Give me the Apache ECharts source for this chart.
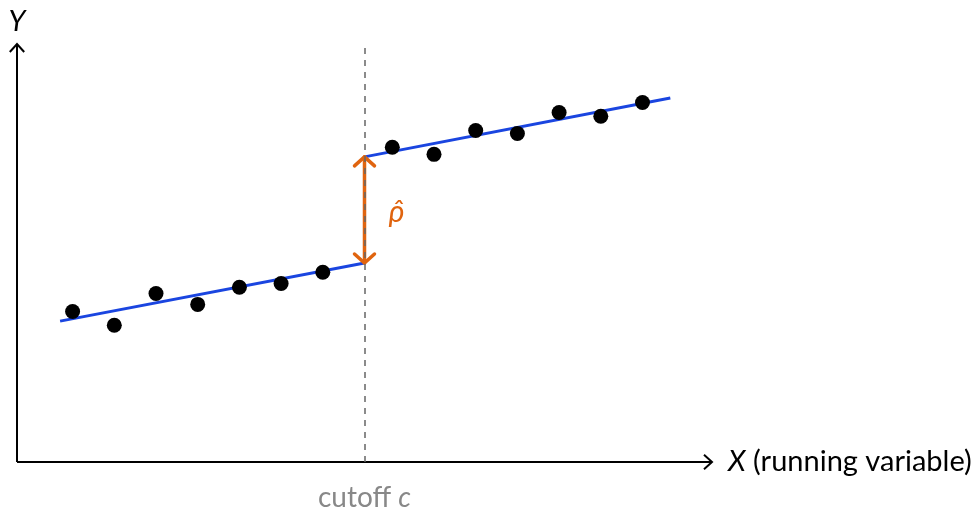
<!DOCTYPE html>
<html><head><meta charset="utf-8">
<script src="https://cdn.jsdelivr.net/npm/echarts@6/dist/echarts.min.js"></script>
<style>html,body{margin:0;padding:0;background:#fff}#c{width:980px;height:509px}</style>
</head><body><div id="c"></div>
<script>
// Data
const cutoff = 5;
const leftX = [0.8, 1.4, 2.0, 2.6, 3.2, 3.8, 4.4];
const leftY = [3.60, 3.27, 4.03, 3.77, 4.18, 4.27, 4.54];
const rightX = [5.4, 6.0, 6.6, 7.2, 7.8, 8.4, 9.0];
const rightY = [7.53, 7.36, 7.93, 7.86, 8.36, 8.27, 8.60];
const leftFit = [[0.62, 3.37], [5, 4.76]];
const rightFit = [[5, 7.30], [9.4, 8.71]];
const jump = [[5, 4.76], [5, 7.30]];
const axisRange = {xMin: 0, xMax: 10, yMin: 0, yMax: 10};

const FONT = 'Lato';
const ORANGE = '#e0640f';
const BLUE = '#1a45e0';

const chart = echarts.init(document.getElementById('c'));
chart.setOption({
  animation: false,
  grid: {left: 17, right: 268, top: 44, bottom: 47, containLabel: false, outerBoundsMode: 'none'},
  xAxis: {
    type: 'value', min: axisRange.xMin, max: axisRange.xMax, interval: 5,
    axisLine: {show: false}, axisTick: {show: false}, splitLine: {show: false},
    axisLabel: {
      margin: 22,
      formatter: v => v === cutoff ? '{n|cutoff }{i|c}' : '',
      color: '#888', fontFamily: FONT, fontSize: 28,
      rich: {
        n: {color: '#888', fontFamily: FONT, fontSize: 28},
        i: {fontStyle: 'italic', color: '#888', fontFamily: FONT, fontSize: 28}
      }
    }
  },
  yAxis: {
    type: 'value', min: axisRange.yMin, max: axisRange.yMax,
    axisLine: {show: false}, axisTick: {show: false}, splitLine: {show: false},
    axisLabel: {show: false}
  },
  series: [
    {
      type: 'custom', silent: true, clip: false,
      data: [[axisRange.xMin, axisRange.yMin]],
      renderItem: function (params, api) {
        const o = api.coord([axisRange.xMin, axisRange.yMin]);
        const xe = api.coord([axisRange.xMax, axisRange.yMin]);
        const ye = api.coord([axisRange.xMin, axisRange.yMax]);
        const st = {stroke: '#000', lineWidth: 2, fill: null};
        const a = 8;
        return {type: 'group', children: [
          {type: 'line', shape: {x1: o[0], y1: o[1], x2: xe[0], y2: xe[1]}, style: st},
          {type: 'polyline', shape: {points: [[xe[0]-a, xe[1]-a*0.9], [xe[0], xe[1]], [xe[0]-a, xe[1]+a*0.9]]}, style: st},
          {type: 'line', shape: {x1: o[0], y1: o[1], x2: ye[0], y2: ye[1]}, style: st},
          {type: 'polyline', shape: {points: [[ye[0]-a*0.9, ye[1]+a], [ye[0], ye[1]], [ye[0]+a*0.9, ye[1]+a]]}, style: st},
          {type: 'text', style: {x: ye[0], y: ye[1]-22, text: '{i|Y}', align: 'center', verticalAlign: 'middle',
            rich: {i: {fontStyle: 'italic', fontFamily: FONT, fontSize: 29, fill: '#000'}}}},
          {type: 'text', style: {x: xe[0]+16, y: xe[1], text: '{i|X}{n| (running variable)}', align: 'left', verticalAlign: 'middle',
            rich: {
              i: {fontStyle: 'italic', fontFamily: FONT, fontSize: 29, fill: '#000'},
              n: {fontFamily: FONT, fontSize: 29, fill: '#000'}
            }}}
        ]};
      },
      markLine: {
        silent: true, symbol: ['none', 'none'], label: {show: false},
        lineStyle: {color: '#666', type: [6, 6], width: 1.5},
        data: [{xAxis: cutoff}]
      }
    },
    {type: 'line', data: leftFit, showSymbol: false, lineStyle: {color: BLUE, width: 3}, z: 3},
    {type: 'line', data: rightFit, showSymbol: false, lineStyle: {color: BLUE, width: 3}, z: 3},
    {
      type: 'scatter', symbolSize: 15, itemStyle: {color: '#000', opacity: 1}, z: 5,
      data: leftX.map((x, i) => [x, leftY[i]]).concat(rightX.map((x, i) => [x, rightY[i]]))
    },
    {
      type: 'custom', silent: true, clip: false, z: 4,
      data: [[jump[0][0], jump[0][1], jump[1][1]]],
      renderItem: function (params, api) {
        const b = api.coord([api.value(0), api.value(1)]);
        const t = api.coord([api.value(0), api.value(2)]);
        const st = {stroke: ORANGE, lineWidth: 3.5, fill: null, lineJoin: 'round', lineCap: 'round'};
        const w = 10, h = 9;
        const mid = (b[1] + t[1]) / 2;
        return {type: 'group', children: [
          {type: 'line', shape: {x1: b[0], y1: b[1], x2: t[0], y2: t[1]}, style: st},
          {type: 'polyline', shape: {points: [[t[0]-w, t[1]+h], [t[0], t[1]], [t[0]+w, t[1]+h]]}, style: st},
          {type: 'polyline', shape: {points: [[b[0]-w, b[1]-h], [b[0], b[1]], [b[0]+w, b[1]-h]]}, style: st},
          {type: 'text', style: {x: t[0]+32, y: mid+2, text: '{r|ρ̂}', align: 'center', verticalAlign: 'middle',
            rich: {r: {fontFamily: FONT, fontStyle: 'italic', fontSize: 30, fill: ORANGE}}}}
        ]};
      }
    }
  ]
});
</script>
</body></html>
